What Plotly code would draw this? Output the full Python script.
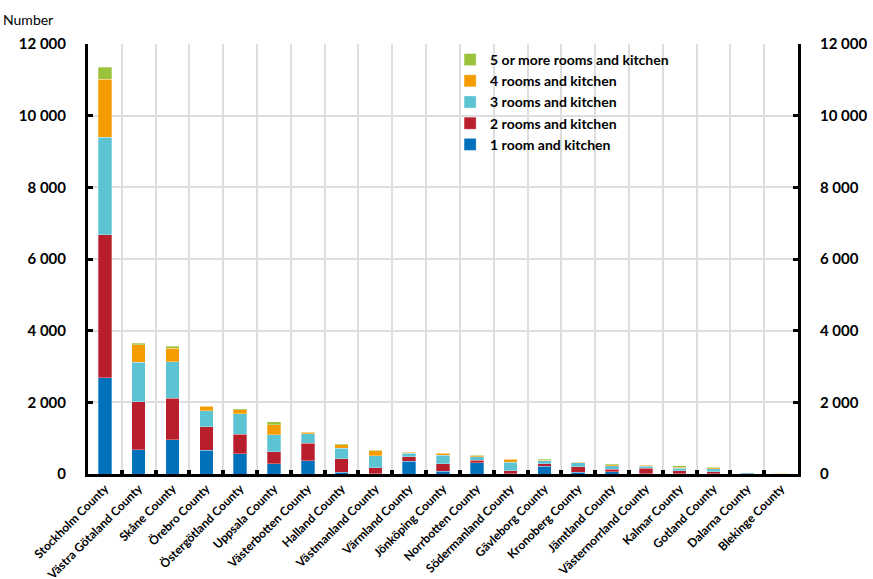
import plotly.graph_objects as go

counties = [
    "Stockholm County", "Västra Götaland County", "Skåne County", "Örebro County",
    "Östergötland County", "Uppsala County", "Västerbotten County", "Halland County",
    "Västmanland County", "Värmland County", "Jönköping County", "Norrbotten County",
    "Södermanland County", "Gävleborg County", "Kronoberg County", "Jämtland County",
    "Västernorrland County", "Kalmar County", "Gotland County", "Dalarna County",
    "Blekinge County",
]

room1 = [2680, 680, 950, 660, 560, 280, 370, 55, 10, 360, 75, 320, 10, 210, 50, 65, 5, 10, 10, 20, 2]
room2 = [4000, 1330, 1160, 660, 550, 340, 490, 375, 170, 115, 215, 70, 80, 75, 155, 65, 160, 75, 55, 10, 10]
room3 = [2720, 1115, 1025, 450, 575, 480, 270, 295, 335, 110, 230, 90, 240, 85, 110, 95, 50, 75, 75, 8, 2]
room4 = [1610, 485, 375, 120, 110, 270, 30, 95, 130, 20, 55, 30, 75, 20, 20, 35, 30, 35, 40, 2, 1]
room5 = [340, 45, 60, 15, 30, 90, 15, 20, 20, 15, 20, 20, 20, 25, 10, 20, 15, 30, 15, 0, 0]

series = [
    ("1 room and kitchen", room1, "#0071BA"),
    ("2 rooms and kitchen", room2, "#B91E2D"),
    ("3 rooms and kitchen", room3, "#5BC3D2"),
    ("4 rooms and kitchen", room4, "#F59C00"),
    ("5 or more rooms and kitchen", room5, "#9AC23B"),
]

y_ticks = [0, 2000, 4000, 6000, 8000, 10000, 12000]

fig = go.Figure()
for name, vals, color in series:
    fig.add_trace(go.Bar(
        x=counties, y=vals, name=name,
        marker=dict(color=color, line=dict(color="rgba(255,255,255,0.6)", width=0.5)),
    ))

# invisible trace so the mirrored right-hand axis is drawn
fig.add_trace(go.Scatter(x=counties[:1], y=[0], yaxis="y2", mode="markers",
                         marker=dict(opacity=0), showlegend=False, hoverinfo="skip"))

tick_font = dict(family="Lato", size=15, color="black", weight="bold")

fig.update_layout(
    width=873, height=579,
    margin=dict(l=88, r=75, t=44, b=105),
    paper_bgcolor="white", plot_bgcolor="white",
    barmode="stack", bargap=0.6,
    separators=". ",
    font=dict(family="Lato", color="black"),
    showlegend=True,
    legend=dict(
        x=0.51, y=1.0, xanchor="left", yanchor="top",
        traceorder="reversed",
        font=dict(family="Lato", size=14, color="black", weight="bold"),
        bgcolor="rgba(255,255,255,0)",
        itemwidth=30,
    ),
    xaxis=dict(
        type="category",
        automargin=False,
        tickson="boundaries",
        showgrid=True, gridcolor="#DEDEDE", gridwidth=1.5,
        ticks="inside", ticklen=4, tickwidth=4, tickcolor="black",
        tickangle=-45,
        tickfont=dict(family="Lato", size=12, color="black", weight="bold"),
        showline=True, linecolor="black", linewidth=3,
        range=[-0.5, len(counties) - 0.5],
    ),
    yaxis=dict(
        automargin=False,
        range=[0, 12000],
        tickvals=y_ticks, tickformat=",d",
        showgrid=True, gridcolor="#DEDEDE", gridwidth=1.5,
        ticks="inside", ticklen=5, tickwidth=3, tickcolor="black",
        tickfont=tick_font, ticklabelstandoff=16,
        showline=True, linecolor="black", linewidth=3,
        zeroline=False,
    ),
    yaxis2=dict(
        automargin=False,
        overlaying="y", side="right",
        range=[0, 12000],
        tickvals=y_ticks, tickformat=",d",
        showgrid=False,
        ticks="inside", ticklen=5, tickwidth=3, tickcolor="black",
        tickfont=tick_font, ticklabelstandoff=16,
        showline=True, linecolor="black", linewidth=3,
        zeroline=False,
    ),
)

fig.add_annotation(
    text="Number", xref="paper", yref="paper", x=-0.123, y=1.0, yshift=14,
    xanchor="left", yanchor="bottom", showarrow=False,
    font=dict(family="Lato", size=14, color="black"),
)

fig.write_html("out.html")
